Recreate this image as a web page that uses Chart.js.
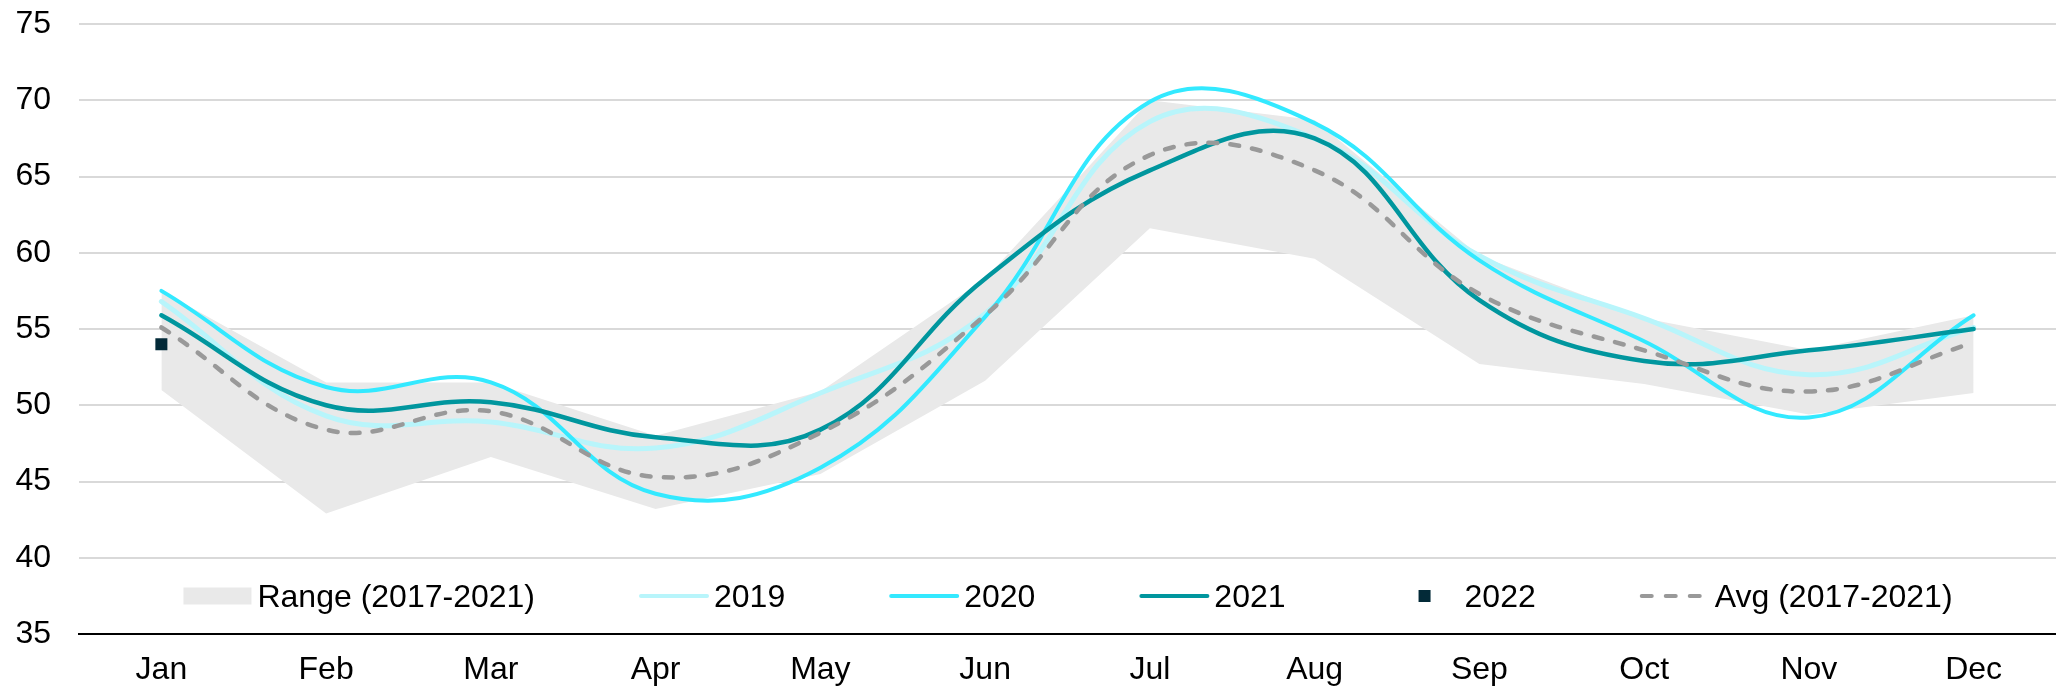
<!DOCTYPE html>
<html><head><meta charset="utf-8">
<script src="https://cdn.jsdelivr.net/npm/chart.js@4.4.1/dist/chart.umd.min.js"></script>
<style>html,body{margin:0;padding:0;background:#fff;} #wrap{width:2056px;height:690px;position:relative;}</style>
</head><body><div id="wrap"><canvas id="c"></canvas></div>
<script>
const months = ['Jan','Feb','Mar','Apr','May','Jun','Jul','Aug','Sep','Oct','Nov','Dec'];
const rangeUpper = [57.5, 51.5, 51.5, 48.0, 50.9, 58.3, 70.0, 68.7, 59.8, 55.7, 53.6, 55.9];
const rangeLower = [51.0, 42.9, 46.6, 43.2, 45.5, 51.6, 61.6, 59.6, 52.7, 51.4, 49.4, 50.8];
const s2019 = [56.8, 49.3, 48.9, 47.2, 50.8, 56.0, 68.6, 67.5, 59.8, 55.7, 52.0, 55.1];
const s2020 = [57.5, 51.2, 51.5, 44.2, 45.9, 55.8, 69.9, 68.5, 59.5, 54.2, 49.2, 55.9];
const s2021 = [55.9, 50.0, 50.2, 47.9, 48.4, 58.3, 65.4, 67.5, 56.9, 52.9, 53.6, 55.0];
const s2022 = [54.0, null, null, null, null, null, null, null, null, null, null, null];
const avg   = [55.1, 48.4, 49.6, 45.3, 48.2, 55.9, 66.4, 65.4, 57.3, 53.6, 50.9, 54.1];
const yTicks = [35, 40, 45, 50, 55, 60, 65, 70, 75];

const FONT = "'Liberation Sans', Arial, Helvetica, sans-serif";
const TENSION = 0.4;

const legendPlugin = {
  id: 'insideLegend',
  afterDraw(chart) {
    const ctx = chart.ctx;
    const area = chart.chartArea;
    const items = chart.data.datasets.filter(d => d.legendKind).sort((a, b) => a.legendOrder - b.legendOrder);
    ctx.save();
    ctx.font = '32px ' + FONT;
    const sampleW = 70, textGap = 5, itemGap = 104;
    const widths = items.map(d => sampleW + textGap + ctx.measureText(d.label).width);
    const total = widths.reduce((a, b) => a + b, 0) + itemGap * (items.length - 1);
    let x = (area.left + area.right) / 2 - total / 2;
    const yMid = 596, yBase = 607;
    items.forEach((d, i) => {
      if (d.legendKind === 'fill') {
        ctx.fillStyle = d.backgroundColor;
        ctx.fillRect(x + 1, yMid - 8.5, 68, 17);
      } else if (d.legendKind === 'line') {
        ctx.strokeStyle = d.borderColor;
        ctx.lineWidth = 4;
        ctx.lineCap = 'round';
        ctx.setLineDash(d.legendDash || []);
        ctx.beginPath();
        ctx.moveTo(x + 2, yMid);
        ctx.lineTo(x + sampleW - 2, yMid);
        ctx.stroke();
        ctx.setLineDash([]);
      } else if (d.legendKind === 'point') {
        ctx.fillStyle = d.pointBackgroundColor;
        ctx.fillRect(x + sampleW / 2 - 6, yMid - 6, 12, 12);
      }
      ctx.fillStyle = '#000';
      ctx.textBaseline = 'alphabetic';
      ctx.textAlign = 'left';
      ctx.fillText(d.label, x + sampleW + textGap, yBase);
      x += widths[i] + itemGap;
    });
    ctx.restore();
  }
};

new Chart(document.getElementById('c'), {
  type: 'line',
  data: {
    labels: months,
    datasets: [
      { label: 'Range (2017-2021)', data: rangeUpper, fill: '+1', backgroundColor: '#e9e9e9',
        borderWidth: 0, pointRadius: 0, tension: 0, order: 10, legendKind: 'fill', legendOrder: 0 },
      { label: '', data: rangeLower, fill: false, backgroundColor: '#e9e9e9',
        borderWidth: 0, pointRadius: 0, tension: 0, order: 11 },
      { label: '2019', data: s2019, borderColor: '#b8f5fb', borderWidth: 5, pointRadius: 0,
        tension: TENSION, fill: false, order: 5, borderCapStyle: 'round', legendKind: 'line', legendOrder: 1 },
      { label: '2020', data: s2020, borderColor: '#33e9ff', borderWidth: 4, pointRadius: 0,
        tension: TENSION, fill: false, order: 4, borderCapStyle: 'round', legendKind: 'line', legendOrder: 2 },
      { label: '2021', data: s2021, borderColor: '#00969e', borderWidth: 4.5, pointRadius: 0,
        tension: TENSION, fill: false, order: 3, borderCapStyle: 'round', legendKind: 'line', legendOrder: 3 },
      { label: '2022', data: s2022, showLine: false, pointStyle: 'rect', pointRadius: 8.5,
        pointBackgroundColor: '#032a38', pointBorderColor: '#032a38', pointBorderWidth: 0,
        borderColor: '#032a38', order: 2, legendKind: 'point', legendOrder: 4 },
      { label: 'Avg (2017-2021)', data: avg, borderColor: '#999999', borderWidth: 4.5, borderDash: [9, 13],
        borderCapStyle: 'round', pointRadius: 0, tension: TENSION, fill: false, order: 1,
        legendKind: 'line', legendDash: [10, 14], legendOrder: 5 }
    ]
  },
  options: {
    responsive: true,
    maintainAspectRatio: false,
    devicePixelRatio: 1,
    animation: false,
    layout: { autoPadding: false, padding: { top: 24, left: 15, right: 0, bottom: 1 } },
    plugins: { legend: { display: false }, tooltip: { enabled: false } },
    scales: {
      x: {
        offset: true,
        grid: { display: false, drawTicks: false },
        border: { display: true, color: '#000', width: 2 },
        ticks: { color: '#000', font: { family: FONT, size: 32 }, padding: 17, maxRotation: 0, autoSkip: false },
        afterFit: s => { s.height = 55; s.paddingLeft = 0; s.paddingRight = 0; }
      },
      y: {
        min: 35, max: 75,
        afterBuildTicks: s => { s.ticks = yTicks.map(v => ({ value: v })); },
        grid: { color: '#d9d9d9', lineWidth: 2, drawTicks: false },
        border: { display: false },
        ticks: { color: '#000', font: { family: FONT, size: 32 }, padding: 28 },
        afterFit: s => { s.width = 64; s.paddingTop = 0; s.paddingBottom = 0; }
      }
    }
  },
  plugins: [legendPlugin]
});
</script>
</body></html>
